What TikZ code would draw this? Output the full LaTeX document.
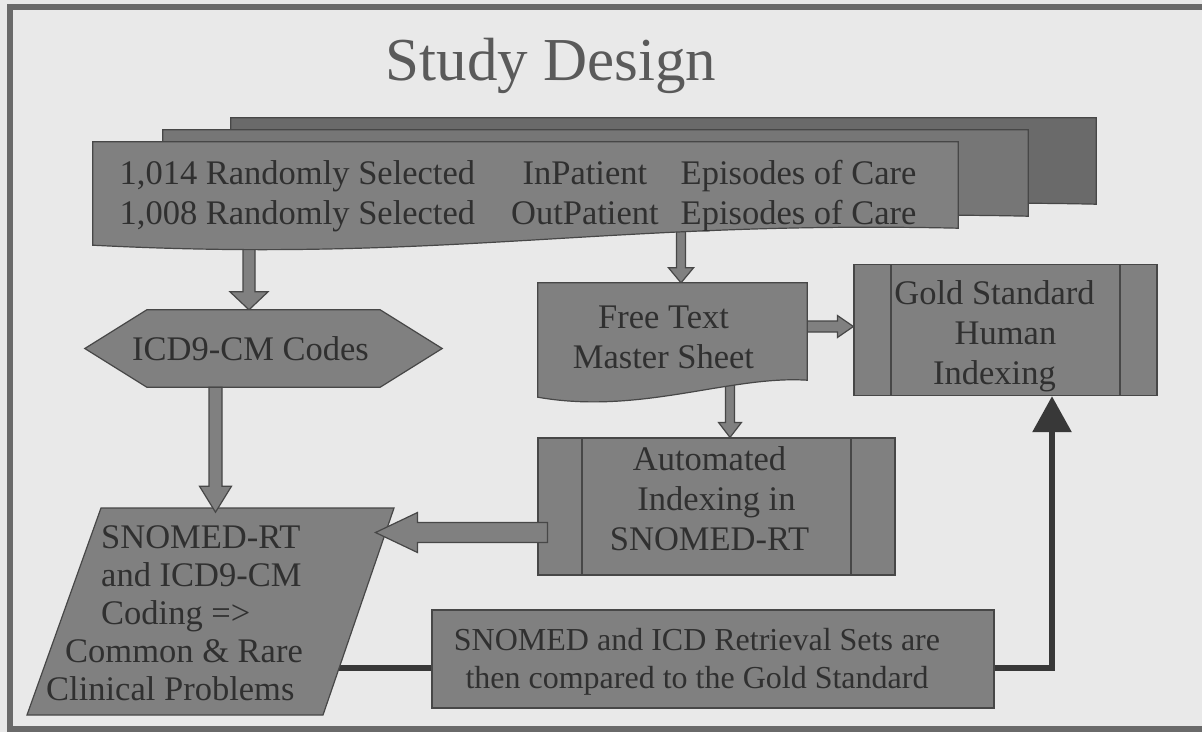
\documentclass[tikz,border=0pt]{standalone}
\usepackage{fontspec}
\setmainfont{Liberation Serif}
\usetikzlibrary{calc,positioning,arrows.meta,backgrounds}
\definecolor{paperColor}{HTML}{E9E9E9}
\definecolor{frameColor}{HTML}{6A6A6A}
\definecolor{boxColor}{HTML}{808080}
\definecolor{edgeColor}{HTML}{474747}
\definecolor{inkColor}{HTML}{303030}
\definecolor{titleColor}{HTML}{5A5A5A}
\definecolor{lineColor}{HTML}{383838}
\definecolor{backPageColor}{HTML}{6A6A6A}
\definecolor{midPageColor}{HTML}{767676}

% block arrows, drawn from node to node (down / sideways)
\newcommand{\blockdown}[5]{%
  \draw[blockarrow] let \p1=(#1), \p2=(#2) in
    ({\x2-#3},{\y1}) -- ({\x2-#3},{\y2+#5}) -- ({\x2-#4},{\y2+#5}) -- (\x2,\y2)
    -- ({\x2+#4},{\y2+#5}) -- ({\x2+#3},{\y2+#5}) -- ({\x2+#3},{\y1}) -- cycle;}
\newcommand{\blockside}[6]{%
  \draw[blockarrow] let \p1=(#1), \p2=(#2) in
    ({\x1},{\y1-#4}) -- ({\x2-(#3)*#6},{\y1-#4}) -- ({\x2-(#3)*#6},{\y1-#5}) -- (\x2,\y1)
    -- ({\x2-(#3)*#6},{\y1+#5}) -- ({\x2-(#3)*#6},{\y1+#4}) -- ({\x1},{\y1+#4}) -- cycle;}
% one sheet of the stacked documents
\newcommand{\drawpage}[3]{%
  \filldraw[shapeedge,fill=#3] ($(recs.south west)+(#1,#2+17)$) -- ($(recs.north west)+(#1,#2)$)
    -- ($(recs.north east)+(#1,#2)$) -- ($(recs.south east)+(#1,#2)$)
    .. controls ($(recs.south east)+(#1-350,#2-8)$) and ($(recs.south west)+(#1+350,#2+35)$)
    .. ($(recs.south west)+(#1,#2+17)$) -- cycle;}

\begin{document}
\begin{tikzpicture}[x=1pt,y=-1pt,
    >={Triangle[length=36pt,width=38pt]},align=center,
    every node/.style={font=\fontsize{34.5}{40}\selectfont,text=inkColor}]
    \tikzstyle{textnode}=[inner sep=0pt]
    \tikzstyle{plainbox}=[rectangle,draw=edgeColor,fill=boxColor,line width=1.2]
    \tikzstyle{shapeedge}=[draw=edgeColor,fill=boxColor,line width=1.2]
    \tikzstyle{blockarrow}=[fill=boxColor,draw=edgeColor,line width=1.2,line join=miter]
    \tikzstyle{link}=[draw=lineColor,line width=6]
    \tikzset{procbox/.style={plainbox,path picture={
      \draw[edgeColor,line width=1.2]
        ([xshift=#1]path picture bounding box.north west) -- ([xshift=#1]path picture bounding box.south west)
        ([xshift=-#1]path picture bounding box.north east) -- ([xshift=-#1]path picture bounding box.south east);}}}
    \useasboundingbox (0,0) rectangle (1202,732);
    % All nodes
    \node (title) [anchor=base,font=\fontsize{61}{62}\selectfont,text=titleColor] at (551,80) {Study Design};
    \node (recs) [textnode,minimum width=865,minimum height=86,text height=58,text depth=23] at (525.5,185)
          {\begin{tabular}{@{}c@{\hspace{36pt}}c@{\hspace{22pt}}c@{\hspace{15pt}}}
           1,014 Randomly Selected & InPatient & Episodes of Care\\
           1,008 Randomly Selected & OutPatient & Episodes of Care
           \end{tabular}};
    \node (icd) [textnode,minimum width=357,minimum height=77] at (263.5,348.5)
          {ICD9-CM Codes\hspace*{26pt}};
    \node (sheet) [textnode,minimum width=269,minimum height=97] at (672.5,331.5)
          {\rule{0pt}{35pt}Free Text\hspace*{18pt}\\Master Sheet\hspace*{18pt}};
    \node (gold) [procbox=37,minimum width=303,minimum height=130] at (1005.5,330)
          {\rule{0pt}{37pt}Gold Standard\hspace*{22pt}\\Human\hspace*{22pt}\\Indexing\hspace*{22pt}};
    \node (auto) [procbox=44,minimum width=357,minimum height=137] at (716.5,506.5)
          {Automated\hspace*{14pt}\\Indexing in\hspace*{14pt}\\SNOMED-RT\rule[-16pt]{0pt}{16pt}\hspace*{14pt}};
    \node (coding) [textnode,anchor=west,align=left,font=\fontsize{34.5}{38}\selectfont] at (46,613)
          {\hspace*{55pt}SNOMED-RT\\\hspace*{55pt}and ICD9-CM\\\hspace*{55pt}Coding =>\\
           \hspace*{19pt}Common \& Rare\\Clinical Problems};
    \node (retr) [plainbox,minimum width=562,minimum height=98,font=\fontsize{32}{38}\selectfont] at (713,659)
          {\rule{0pt}{28pt}SNOMED and ICD Retrieval Sets are\hspace*{32pt}\\then compared to the Gold Standard\hspace*{32pt}};
    \coordinate (codingNW) at ($(coding.west)+(55,-105)$);
    \coordinate (codingNE) at ($(coding.west)+(348,-105)$);
    \coordinate (codingSE) at ($(coding.west)+(277,102)$);
    \coordinate (codingSW) at ($(coding.west)+(-19,102)$);
    % Shapes and hidden ends
    \begin{pgfonlayer}{background}
      \fill[paperColor] (0,0) rectangle (1202,732);
      \draw[frameColor,line width=6] (1210,7) -- (10,7) -- (10,729) -- (1210,729);
      \draw[link] ($(retr.west)+(0,9)$) -- ($(coding.west)+(100,55)$);
      \blockdown{recs.south}{$(icd.north)+(-14.5,0)$}{6pt}{19pt}{18pt}
      \blockdown{recs.south}{$(sheet.north)+(8.5,0)$}{4.5pt}{12.5pt}{15pt}
      \blockdown{sheet.south}{$(auto.north)+(13.5,0)$}{4.5pt}{11.5pt}{15pt}
      \blockside{$(sheet.east)+(0,-5)$}{gold.west}{1}{5.5pt}{11pt}{16pt}
      \drawpage{138}{-24}{backPageColor}
      \drawpage{70}{-12}{midPageColor}
      \drawpage{0}{0}{boxColor}
      \filldraw[shapeedge] (icd.west) -- ($(icd.north west)+(62,0)$) -- ($(icd.north east)+(-62,0)$)
        -- (icd.east) -- ($(icd.south east)+(-62,0)$) -- ($(icd.south west)+(62,0)$) -- cycle;
      \filldraw[shapeedge] (codingNW) -- (codingNE) -- (codingSE) -- (codingSW) -- cycle;
      \filldraw[shapeedge] ($(sheet.south west)+(0,17)$) -- (sheet.north west) -- (sheet.north east)
        -- (sheet.south east) .. controls ($(sheet.south east)+(-77,-5)$) and ($(sheet.south west)+(102,35)$)
        .. ($(sheet.south west)+(0,17)$) -- cycle;
    \end{pgfonlayer}
    % Edges
    \blockdown{icd.south}{$(icd.south)+(-48,125)$}{6.5pt}{16pt}{26pt}
    \blockside{$(auto.west)+(10,26)$}{$($(codingNE)!0.12!(codingSE)$)+(-10,0)$}{-1}{10pt}{20pt}{42pt}
    \draw[link,->] ($(retr.east)+(0,9)$) -| ($(gold.south)+(46.5,0)$);
\end{tikzpicture}
\end{document}
